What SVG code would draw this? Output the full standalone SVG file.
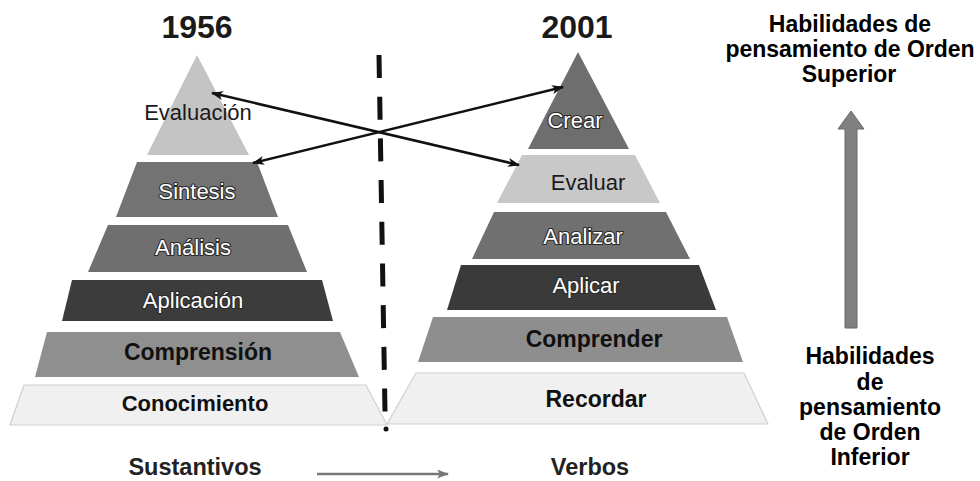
<svg xmlns="http://www.w3.org/2000/svg" width="980" height="481" viewBox="0 0 980 481">
<defs>
<style>
.t{font-family:"Liberation Sans",Arial,sans-serif;text-anchor:middle}
.yr{font-size:32px;font-weight:bold;fill:#1a1a1a}
.reg{font-size:22px;fill:#1a1a1a}
.out{font-size:22px;fill:#ffffff;stroke:#2a2a2a;stroke-width:2.2;paint-order:stroke;stroke-linejoin:round}
.bold{font-size:23px;font-weight:bold;fill:#111}
.side{font-size:23px;font-weight:bold;fill:#000}
.foot{font-size:23.5px;font-weight:bold;fill:#222}
.conn{stroke:#111;stroke-width:2.5;fill:none}
</style>
<marker id="ah" viewBox="0 0 12 9" refX="11" refY="4.5" markerWidth="12" markerHeight="9" markerUnits="userSpaceOnUse" orient="auto-start-reverse">
<path d="M0,0 L12,4.5 L0,9 L3,4.5 z" fill="#111"/>
</marker>
<marker id="gah" viewBox="0 0 12 9" refX="11" refY="4.5" markerWidth="12" markerHeight="9" markerUnits="userSpaceOnUse" orient="auto">
<path d="M0,0 L12,4.5 L0,9 L3,4.5 z" fill="#777"/>
</marker>
</defs>
<rect width="980" height="481" fill="#ffffff"/>

<text class="t yr" x="197" y="38">1956</text>
<text class="t yr" x="577" y="38">2001</text>

<g id="evaluacion"><polygon points="197,55 249,155 147,155" fill="#c4c4c4"/><text class="t reg" x="198" y="120">Evaluación</text></g>
<g id="sintesis"><polygon points="137,162 257,162 278,217 116,217" fill="#737373"/><text class="t out" x="197" y="199">Sintesis</text></g>
<g id="analisis"><polygon points="108,225 288,225 307,272 88,272" fill="#6f6f6f"/><text class="t out" x="193" y="255">Análisis</text></g>
<g id="aplicacion"><polygon points="72,280 322,280 333,321 62,321" fill="#3c3c3c"/><text class="t out" x="193" y="308">Aplicación</text></g>
<g id="comprension"><polygon points="47,332 340,332 359,377 35,377" fill="#8f8f8f"/><text class="t bold" x="198" y="360">Comprensión</text></g>
<g id="conocimiento"><polygon points="24,385 366,385 387,425 10,425" fill="#f0f0f0" stroke="#cfcfcf" stroke-width="1.2"/><text class="t bold" style="font-size:22px" x="195" y="411">Conocimiento</text></g>

<g id="crear"><polygon points="578,52 629,149 528,149" fill="#6e6e6e"/><text class="t out" x="575" y="128">Crear</text></g>
<g id="evaluar"><polygon points="522,155 635,155 660,203 497,203" fill="#c8c8c8"/><text class="t reg" x="588" y="190">Evaluar</text></g>
<g id="analizar"><polygon points="494,212 666,212 690,259 472,259" fill="#707070"/><text class="t out" x="583" y="244">Analizar</text></g>
<g id="aplicar"><polygon points="461,265 699,265 716,310 447,310" fill="#3a3a3a"/><text class="t out" x="586" y="293">Aplicar</text></g>
<g id="comprender"><polygon points="433,317 727,317 743,362 418,362" fill="#8e8e8e"/><text class="t bold" x="594" y="347">Comprender</text></g>
<g id="recordar"><polygon points="416,373 744,373 768,424 387,424" fill="#f0f0f0" stroke="#d0d0d0" stroke-width="1.2"/><text class="t bold" x="596" y="407">Recordar</text></g>

<g id="connectors">
<line x1="379" y1="55" x2="385" y2="412" stroke="#111" stroke-width="5" stroke-dasharray="23 18.7"/>
<circle cx="386" cy="429" r="2.5" fill="#111"/>
<line class="conn" x1="212" y1="93" x2="519" y2="165" marker-start="url(#ah)" marker-end="url(#ah)"/>
<line class="conn" x1="253" y1="163" x2="563" y2="87" marker-start="url(#ah)" marker-end="url(#ah)"/>
<line x1="317" y1="474" x2="448" y2="474" stroke="#777" stroke-width="2.5" marker-end="url(#gah)"/>
</g>

<g id="uparrow"><polygon points="851,111 864,129 857,129 857,328 845,328 845,129 838,129" fill="#808080" stroke="#686868" stroke-width="1"/></g>

<g id="superior">
<text class="t side" x="850" y="32">Habilidades de</text>
<text class="t side" x="850" y="57">pensamiento de Orden</text>
<text class="t side" x="849" y="82">Superior</text>
</g>
<g id="inferior">
<text class="t side" x="870" y="364">Habilidades</text>
<text class="t side" x="870" y="390">de</text>
<text class="t side" x="870" y="415">pensamiento</text>
<text class="t side" x="870" y="440">de Orden</text>
<text class="t side" x="870" y="465">Inferior</text>
</g>

<text class="t foot" x="195" y="475">Sustantivos</text>
<text class="t foot" x="590" y="475">Verbos</text>
</svg>
